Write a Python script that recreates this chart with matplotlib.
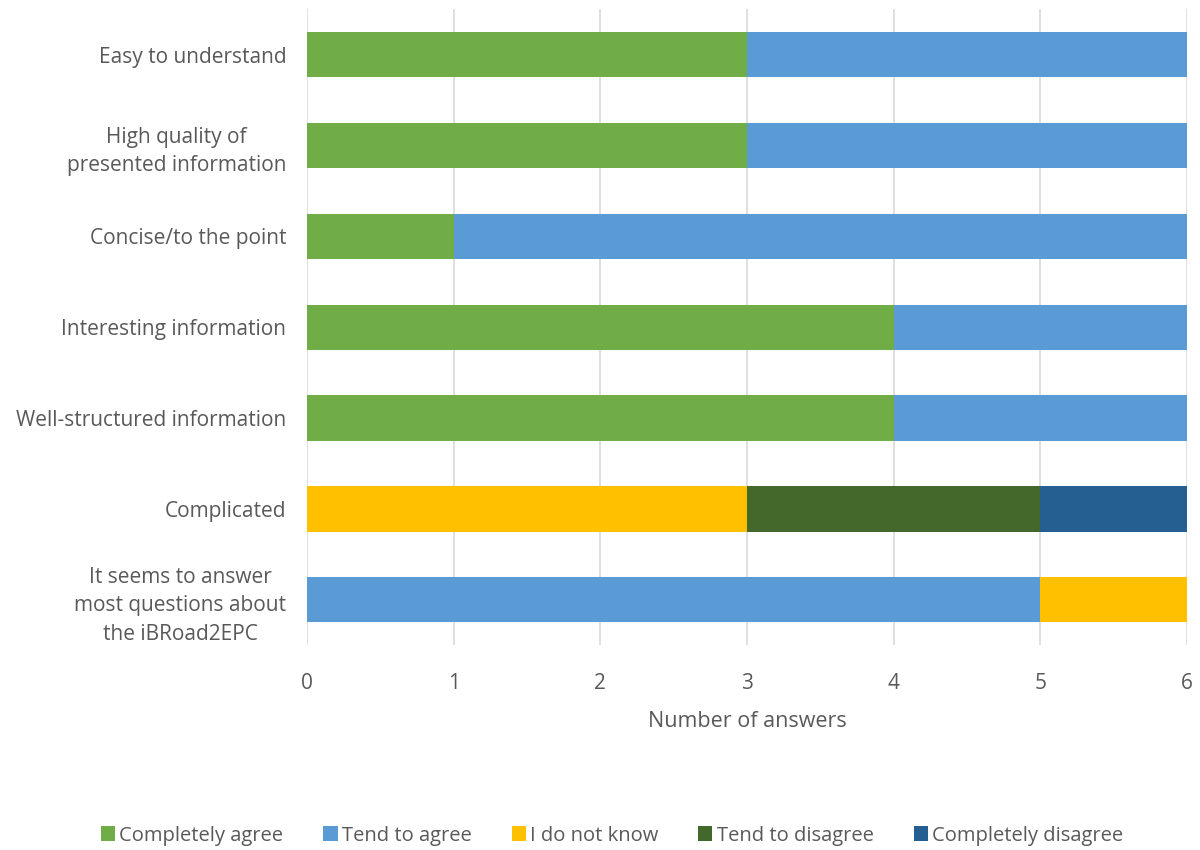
import numpy as np
import matplotlib.pyplot as plt
from matplotlib.patches import Patch

plt.rcParams['font.family'] = ['Open Sans', 'DejaVu Sans']

# data (top to bottom)
questions = [
    "Easy to understand",
    "High quality of\npresented information",
    "Concise/to the point",
    "Interesting information",
    "Well-structured information",
    "Complicated",
    "It seems to answer\nmost questions about\nthe iBRoad2EPC",
]
series_names = ["Completely agree", "Tend to agree", "I do not know",
                "Tend to disagree", "Completely disagree"]
completely_agree = [3, 3, 1, 4, 4, 0, 0]
tend_to_agree = [3, 3, 5, 2, 2, 0, 5]
do_not_know = [0, 0, 0, 0, 0, 3, 1]
tend_to_disagree = [0, 0, 0, 0, 0, 2, 0]
completely_disagree = [0, 0, 0, 0, 0, 1, 0]

colors = ["#70AD47", "#5B9BD5", "#FFC000", "#43682B", "#255E91"]
text_color = "#595959"

fig = plt.figure(figsize=(12, 8.5), dpi=100)
ax = fig.add_axes([0.256, 0.241, 0.733, 0.748])

y = np.arange(len(questions))
left = np.zeros(len(questions))
all_series = [completely_agree, tend_to_agree, do_not_know,
              tend_to_disagree, completely_disagree]
for name, vals, c in zip(series_names, all_series, colors):
    vals = np.array(vals, dtype=float)
    ax.barh(y, vals, left=left, height=0.5, color=c, label=name, zorder=3)
    left += vals

ax.set_yticks(y)
ax.set_yticklabels(questions, fontsize=15, color=text_color, linespacing=1.45,
                   multialignment='center')
ax.invert_yaxis()
ax.set_ylim(len(questions) - 0.5, -0.5)
ax.set_xlim(0, 6)
ax.set_xticks(range(7))
ax.tick_params(axis='x', labelsize=15, colors=text_color, length=0, pad=20)
ax.tick_params(axis='y', length=0, pad=15)
ax.set_xlabel("Number of answers", fontsize=15.5, color=text_color, labelpad=12)
ax.grid(axis='x', color="#D9D9D9", linewidth=1.2, zorder=0)
for s in ax.spines.values():
    s.set_visible(False)

handles = [Patch(facecolor=c, label=n) for n, c in zip(series_names, colors)]
fig.legend(handles=handles, loc='center', bbox_to_anchor=(0.51, 0.017), ncol=5,
           frameon=False, fontsize=14.5, handlelength=0.7, handleheight=0.7,
           handletextpad=0.2, columnspacing=2.0, labelcolor=text_color)

fig.savefig("out.png", dpi=100)
